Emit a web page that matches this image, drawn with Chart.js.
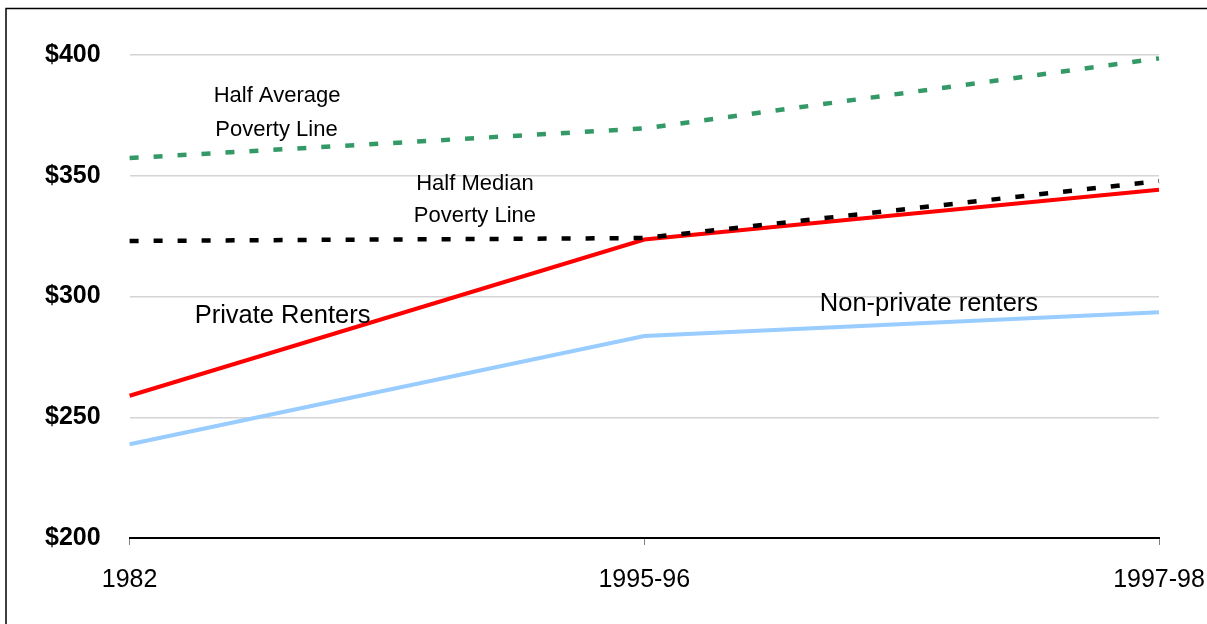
<!DOCTYPE html>
<html>
<head>
<meta charset="utf-8">
<title>Poverty lines and rents</title>
<script src="https://cdn.jsdelivr.net/npm/chart.js@4/dist/chart.umd.min.js"></script>
<style>
  html, body { margin: 0; padding: 0; background: #ffffff; }
  #wrap { position: relative; width: 1207px; height: 624px; overflow: hidden; }
  canvas { display: block; }
</style>
</head>
<body>
<div id="wrap"><canvas id="chart" width="1207" height="624"></canvas></div>
<script>
// ---- data ----
const periods = ['1982', '1995-96', '1997-98'];
const halfAverageLine = [357.3, 369.6, 398.6];
const halfMedianLine = [323.0, 324.2, 347.8];
const privateRenters = [258.9, 323.6, 344.2];
const nonPrivateRenters = [238.8, 283.6, 293.5];
const yTickValues = [200, 250, 300, 350, 400];

// ---- in-chart labels (text, then where it sits in axis units) ----
const seriesLabels = [
  { text: 'Half Average', at: [0.2864, 380.4], size: 22 },
  { text: 'Poverty Line', at: [0.2854, 366.6], size: 22 },
  { text: 'Half Median', at: [0.6709, 344.1], size: 22 },
  { text: 'Poverty Line', at: [0.6709, 331.0], size: 22 },
  { text: 'Private Renters', at: [0.2971, 288.9], size: 25.5 },
  { text: 'Non-private renters', at: [1.553, 294.1], size: 25.5 }
];

const FONT = "'Liberation Sans', Arial, Helvetica, sans-serif";

// thin frame running along the left and top edges
const framePlugin = {
  id: 'frame',
  beforeDraw(chart) {
    const ctx = chart.ctx;
    ctx.save();
    ctx.strokeStyle = '#000000';
    ctx.lineWidth = 1.5;
    ctx.beginPath();
    ctx.moveTo(6, chart.height + 2);
    ctx.lineTo(6, 8.5);
    ctx.lineTo(chart.width + 2, 8.5);
    ctx.stroke();
    ctx.restore();
  }
};

// series names written next to their lines
const labelPlugin = {
  id: 'seriesLabels',
  afterDatasetsDraw(chart) {
    const ctx = chart.ctx;
    const xs = chart.scales.x, ys = chart.scales.y;
    ctx.save();
    ctx.fillStyle = '#000000';
    ctx.textAlign = 'center';
    ctx.textBaseline = 'alphabetic';
    seriesLabels.forEach(l => {
      ctx.font = l.size + 'px ' + FONT;
      ctx.fillText(l.text, xs.getPixelForValue(l.at[0]), ys.getPixelForValue(l.at[1]));
    });
    ctx.restore();
  }
};

const dash = [9, 15];

new Chart(document.getElementById('chart'), {
  type: 'line',
  data: {
    labels: periods,
    datasets: [
      {
        label: 'Half Average Poverty Line',
        data: halfAverageLine,
        borderColor: '#339966',
        borderWidth: 4.5,
        borderDash: dash,
        borderCapStyle: 'butt',
        order: 1
      },
      {
        label: 'Half Median Poverty Line',
        data: halfMedianLine,
        borderColor: '#000000',
        borderWidth: 4.5,
        borderDash: dash,
        borderCapStyle: 'butt',
        order: 2
      },
      {
        label: 'Private Renters',
        data: privateRenters,
        borderColor: '#ff0000',
        borderWidth: 4,
        order: 3
      },
      {
        label: 'Non-private renters',
        data: nonPrivateRenters,
        borderColor: '#99ccff',
        borderWidth: 4,
        order: 4
      }
    ]
  },
  options: {
    responsive: false,
    animation: false,
    devicePixelRatio: 1,
    layout: { padding: { left: 16, right: 48, top: 55, bottom: 9 } },
    elements: {
      point: { radius: 0, hoverRadius: 0 },
      line: { tension: 0, fill: false }
    },
    plugins: {
      legend: { display: false },
      tooltip: { enabled: false },
      title: { display: false }
    },
    scales: {
      x: {
        type: 'category',
        offset: false,
        afterFit(scale) {
          // end labels may overhang the plot edges
          scale.paddingLeft = 0;
          scale.paddingRight = 0;
        },
        grid: {
          drawOnChartArea: false,
          drawTicks: true,
          tickLength: 7,
          color: '#808080',
          lineWidth: 1
        },
        border: { display: true, color: '#000000', width: 2 },
        ticks: {
          color: '#000000',
          font: { family: FONT, size: 25 },
          padding: 20,
          maxRotation: 0,
          autoSkip: false
        }
      },
      y: {
        min: 200,
        max: 400,
        afterBuildTicks(scale) {
          scale.ticks = yTickValues.map(v => ({ value: v }));
        },
        grid: {
          drawTicks: false,
          color: '#d4d4d4',
          lineWidth: 1.5
        },
        border: { display: false },
        ticks: {
          color: '#000000',
          font: { family: FONT, size: 25, weight: 'bold' },
          padding: 29,
          callback: v => '$' + v
        }
      }
    }
  },
  plugins: [framePlugin, labelPlugin]
});
</script>
</body>
</html>
